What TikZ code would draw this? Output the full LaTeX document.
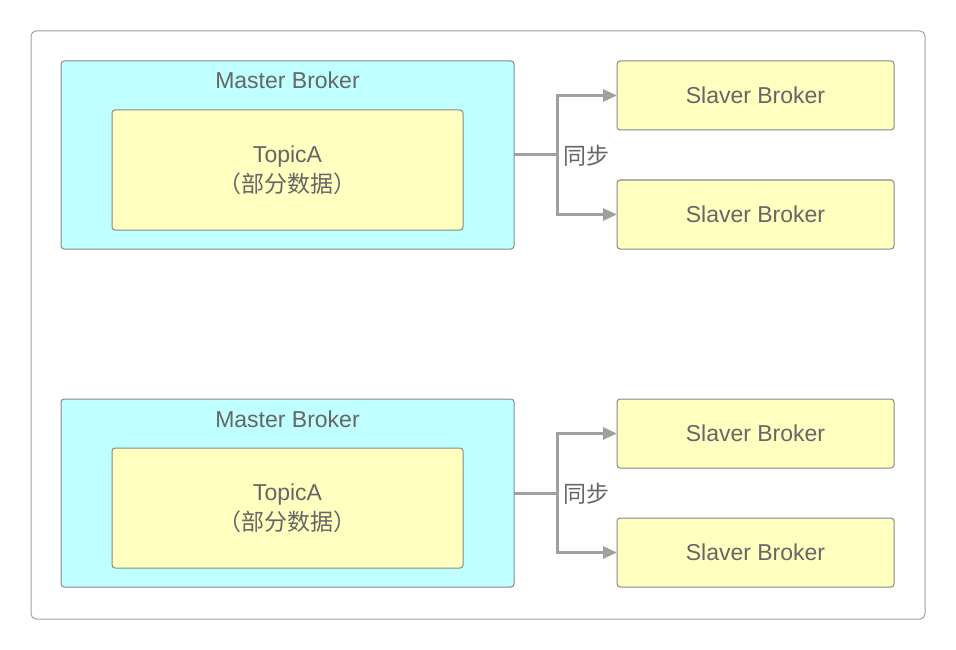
\documentclass[tikz,border=0pt]{standalone}
\usepackage{fontspec}
\setmainfont{Liberation Sans}
\newfontfamily\cjk{Noto Sans CJK SC}
\usetikzlibrary{arrows.meta}
\definecolor{cyanfill}{HTML}{BFFFFF}
\definecolor{yelfill}{HTML}{FFFFC0}
\definecolor{edgegray}{HTML}{888888}
\definecolor{txtgray}{HTML}{666666}
\definecolor{arrgray}{HTML}{A0A0A0}
\tikzset{
  box/.style={draw=edgegray, line width=1pt, rounded corners=3pt, inner sep=0pt, outer sep=0pt},
  master/.style={box, fill=cyanfill},
  topicbox/.style={box, fill=yelfill, align=center, text=txtgray, font=\fontsize{23}{30}\selectfont},
  slave/.style={box, fill=yelfill, text=txtgray, font=\fontsize{23}{27}\selectfont, minimum width=277pt, minimum height=69pt},
  lbl/.style={text=txtgray, font=\fontsize{23}{27}\selectfont},
  conn/.style={draw=arrgray, line width=3pt, -{Triangle[length=14pt,width=12pt]}},
  connline/.style={draw=arrgray, line width=3pt},
}
\begin{document}
\begin{tikzpicture}[x=1pt,y=-1pt]
\useasboundingbox (0,0) rectangle (956,650);
\draw[draw=edgegray!80, line width=1pt, rounded corners=5pt] (31,31) rectangle (925,619);
\foreach \g/\dy in {a/0,b/338}{
  \node[master, minimum width=453pt, minimum height=188pt, anchor=north west] (m\g) at (61,61+\dy) {};
  \node[lbl, anchor=base] (mt\g) at (287.5,89+\dy) {Master Broker};
  \node[topicbox, minimum width=351pt, minimum height=120pt, anchor=north west] (t\g) at (112,110+\dy) {TopicA\\{\cjk（部分数据）}};
  \node[slave, anchor=north west] (s\g1) at (617,61+\dy) {Slaver Broker};
  \node[slave, anchor=north west] (s\g2) at (617,180+\dy) {Slaver Broker};
  \coordinate (j\g) at (557,155+\dy);
  \draw[connline] (m\g.east |- j\g) -- (j\g);
  \draw[conn] (j\g) |- (s\g1.west);
  \draw[conn] (j\g) |- (s\g2.west);
  \node[lbl, anchor=west, inner sep=0pt] (l\g) at (563,156+\dy) {\cjk 同步};
}
\end{tikzpicture}
\end{document}
